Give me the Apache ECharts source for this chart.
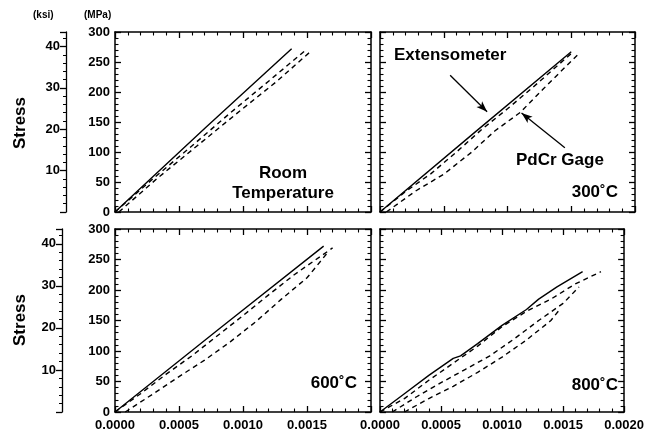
<!DOCTYPE html>
<html><head><meta charset="utf-8">
<script src="https://cdn.jsdelivr.net/npm/echarts@6/dist/echarts.min.js"></script>
<style>html,body{margin:0;padding:0;background:#fff}#c{width:647px;height:442px}</style>
</head><body><div id="c"></div>
<script>
// ---- data (strain, stress MPa) ----
var strainTicks = [0, 0.0005, 0.0010, 0.0015, 0.0020];
var mpaTicks = [0, 50, 100, 150, 200, 250, 300];
var ksiTicks = [10, 20, 30, 40];
var panelLabels = ['Room\nTemperature', '300˚C', '600˚C', '800˚C'];

var rtExt   = [[0,0],[0.0007,139],[0.00138,272]];
var rtGage1 = [[0,0],[0.0003,56],[0.0006,110],[0.0009,165],[0.0012,218],[0.00148,268]];
var rtGage2 = [[0.00003,0],[0.00033,56],[0.00064,110],[0.00095,164],[0.00126,217],[0.00152,266]];

var ext300   = [[0,0],[0.00075,134],[0.0015,267]];
var gage300a = [[0,0],[0.0002,34],[0.0004,64],[0.0006,100],[0.0008,138],[0.001,172],[0.0012,208],[0.00151,266]];
var gage300b = [[0.00005,0],[0.00028,35],[0.0005,63],[0.00072,100],[0.0009,135],[0.0011,166],[0.00128,205],[0.00155,262]];

var ext600   = [[0,0],[0.0008,134],[0.00163,272]];
var gage600a = [[0,0],[0.0002,30],[0.0004,62],[0.0006,92],[0.0008,125],[0.001,158],[0.0012,192],[0.0014,225],[0.0017,269]];
var gage600b = [[0.00008,0],[0.0003,30],[0.0005,58],[0.0007,85],[0.0009,115],[0.0011,148],[0.0013,185],[0.0015,220],[0.00166,261]];

var ext800   = [[0,0],[0.0002,30],[0.0004,60],[0.0006,88],[0.00066,92],[0.0008,112],[0.001,142],[0.0012,168],[0.0013,185],[0.00145,205],[0.00166,230]];
var gage800a = [[0,0],[0.0002,22],[0.0004,52],[0.0006,80],[0.0008,108],[0.001,140],[0.0012,165],[0.0014,185],[0.0016,210],[0.00181,230]];
var gage800b = [[0.0001,0],[0.0003,25],[0.0005,48],[0.0007,70],[0.0009,92],[0.0011,120],[0.0013,150],[0.0015,178],[0.00163,205]];
var gage800c = [[0.0002,0],[0.0004,22],[0.0006,42],[0.0008,65],[0.001,90],[0.0012,118],[0.0014,150],[0.00148,170]];

var arrowExt  = [[0.00055,228],[0.00084,167]];
var arrowGage = [[0.00145,107],[0.00111,165]];

// ---- chart ----
var FONT = '"Liberation Sans", Arial, sans-serif';
var grids = [
  {left:115, top:32,  width:256, height:180},
  {left:380, top:32,  width:255, height:180},
  {left:115, top:229, width:256, height:183},
  {left:380, top:229, width:255, height:183}
];
var axLine = {show:true, onZero:false, lineStyle:{color:'#000', width:1.5}};
function tick(inside){return {show:true, inside:inside, length:6, lineStyle:{color:'#000', width:1.3}};}
var minor = {show:true, splitNumber:5, length:3.5, lineStyle:{color:'#000', width:1.1}};
var lab = {color:'#000', fontFamily:FONT, fontWeight:'bold', fontSize:13};
var xAxes = [], yAxes = [];
for (var g=0; g<4; g++) {
  var bottomRow = g>=2;
  xAxes.push({type:'value', gridIndex:g, position:'bottom', min:strainTicks[0], max:strainTicks[strainTicks.length-1], interval:0.0005,
    axisLine:axLine, axisTick:tick(true), minorTick:minor, splitLine:{show:false},
    axisLabel: bottomRow ? Object.assign({}, lab, {margin:7, showMaxLabel:true, formatter:(function(gg){return function(v){
      if (gg===2 && v>0.00199) return ''; return v.toFixed(4);} })(g)}) : {show:false}});
}
for (var g=0; g<4; g++) {
  xAxes.push({type:'value', gridIndex:g, position:'top', min:0, max:0.002, interval:0.0005,
    axisLine:axLine, axisTick:tick(true), minorTick:minor, splitLine:{show:false}, axisLabel:{show:false}});
}
for (var g=0; g<4; g++) {
  var leftCol = (g%2)===0;
  yAxes.push({type:'value', gridIndex:g, position:'left', min:mpaTicks[0], max:mpaTicks[mpaTicks.length-1], interval:50,
    axisLine:axLine, axisTick:tick(true), minorTick:minor, splitLine:{show:false},
    axisLabel: leftCol ? Object.assign({}, lab, {margin:5}) : {show:false}});
}
for (var g=0; g<4; g++) {
  yAxes.push({type:'value', gridIndex:g, position:'right', min:0, max:300, interval:50,
    axisLine:axLine, axisTick:tick(true), minorTick:minor, splitLine:{show:false}, axisLabel:{show:false}});
}
[[0,49],[2,53]].forEach(function(p){
  yAxes.push({type:'value', gridIndex:p[0], position:'left', offset:p[1], min:0, max:300/6.895, interval:10,
    axisLine:{show:true, onZero:false, lineStyle:{color:'#000', width:1.3}},
    axisTick:{show:true, inside:false, length:6, lineStyle:{color:'#000', width:1.3}},
    minorTick:{show:true, splitNumber:5, length:3, lineStyle:{color:'#000'}},
    splitLine:{show:false},
    axisLabel:Object.assign({}, lab, {margin:6, formatter:function(v){return ksiTicks.indexOf(Math.round(v*1000)/1000)>=0 ? String(v) : '';}})});
});

function solid(data, g){return {type:'line', data:data, xAxisIndex:g, yAxisIndex:g, showSymbol:false, symbol:'none', silent:true,
  lineStyle:{color:'#000', width:1.4, type:'solid'}};}
function dashed(data, g){return {type:'line', data:data, xAxisIndex:g, yAxisIndex:g, showSymbol:false, symbol:'none', silent:true,
  lineStyle:{color:'#000', width:1.4, type:[5,4]}};}

var series = [
  solid(rtExt,0), dashed(rtGage1,0), dashed(rtGage2,0),
  solid(ext300,1), dashed(gage300a,1), dashed(gage300b,1),
  solid(ext600,2), dashed(gage600a,2), dashed(gage600b,2),
  solid(ext800,3), dashed(gage800a,3), dashed(gage800b,3), dashed(gage800c,3),
  {type:'line', data:[], xAxisIndex:1, yAxisIndex:1, silent:true,
   markLine:{silent:true, symbol:['none','arrow'], symbolSize:[6,11], animation:false,
     lineStyle:{color:'#000', width:1.3, type:'solid'}, label:{show:false},
     data:[[{coord:arrowExt[0]},{coord:arrowExt[1]}],[{coord:arrowGage[0]},{coord:arrowGage[1]}]]}}
];

function txt(x, y, s, size, align, extra){
  return Object.assign({type:'text', x:x, y:y, silent:true, style:{text:s, fill:'#000', font:'bold '+size+'px '+FONT,
    textAlign:align||'left', textVerticalAlign:'middle'}}, extra||{});
}
var graphic = [
  txt(33, 15, '(ksi)', 10),
  txt(84, 15, '(MPa)', 10),
  txt(20, 123, 'Stress', 17, 'center', {rotation:Math.PI/2}),
  txt(20, 320, 'Stress', 17, 'center', {rotation:Math.PI/2}),
  txt(283, 173, 'Room', 17, 'center'),
  txt(283, 193, 'Temperature', 17, 'center'),
  txt(394, 55, 'Extensometer', 17, 'left'),
  txt(516, 160, 'PdCr Gage', 17, 'left'),
  txt(618, 192, panelLabels[1], 17, 'right'),
  txt(357, 383, panelLabels[2], 17, 'right'),
  txt(618, 385, panelLabels[3], 17, 'right')
];

var chart = echarts.init(document.getElementById('c'), null, {renderer:'canvas'});
chart.setOption({backgroundColor:'#fff', animation:false, grid:grids, xAxis:xAxes, yAxis:yAxes, series:series, graphic:graphic});
</script></body></html>
